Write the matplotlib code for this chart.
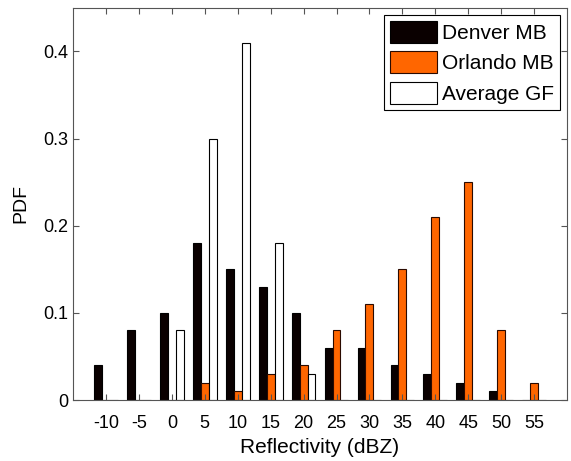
import numpy as np
import matplotlib
matplotlib.use("Agg")
import matplotlib.pyplot as plt

plt.rcParams["font.family"] = ["Liberation Sans", "DejaVu Sans"]

bins = ["-10", "-5", "0", "5", "10", "15", "20", "25", "30", "35", "40", "45", "50", "55"]
denver_mb = [0.04, 0.08, 0.10, 0.18, 0.15, 0.13, 0.10, 0.06, 0.06, 0.04, 0.03, 0.02, 0.01, 0.0]
orlando_mb = [0.0, 0.0, 0.0, 0.02, 0.01, 0.03, 0.04, 0.08, 0.11, 0.15, 0.21, 0.25, 0.08, 0.02]
average_gf = [0.0, 0.0, 0.08, 0.30, 0.41, 0.18, 0.03, 0.0, 0.0, 0.0, 0.0, 0.0, 0.0, 0.0]

fig = plt.figure(figsize=(5.71, 4.61), dpi=100)
ax = fig.add_axes([0.128, 0.132, 0.865, 0.851])

x = np.arange(len(bins))
w = 0.24
ax.bar(x - w, denver_mb, w, color="#0a0000", edgecolor="#000000", linewidth=0.8, label="Denver MB")
ax.bar(x, orlando_mb, w, color="#ff6600", edgecolor="#2a0a00", linewidth=0.8, label="Orlando MB")
ax.bar(x + w, average_gf, w, color="white", edgecolor="#000000", linewidth=0.8, label="Average GF")

ax.set_xlim(-1, 14)
ax.set_ylim(0, 0.45)
ax.set_xticks(x)
ax.set_xticklabels(bins)
ax.set_yticks([0, 0.1, 0.2, 0.3, 0.4])
ax.set_yticklabels(["0", "0.1", "0.2", "0.3", "0.4"])
ax.tick_params(direction="in", top=True, right=True, labelsize=13, length=4, color="#555555")
ax.tick_params(axis="x", pad=11)
for s in ax.spines.values():
    s.set_color("#555555")
ax.set_xlabel("Reflectivity (dBZ)", fontsize=15, labelpad=4)
ax.set_ylabel("PDF", fontsize=14, labelpad=10)

leg = ax.legend(loc="upper right", fontsize=15, handlelength=2.25, handleheight=1.25,
                fancybox=False, framealpha=1, borderpad=0.3, labelspacing=0.4,
                handletextpad=0.25, borderaxespad=0.33)
leg.get_frame().set_edgecolor("black")
leg.get_frame().set_linewidth(0.8)

fig.savefig("out.png", dpi=100)
